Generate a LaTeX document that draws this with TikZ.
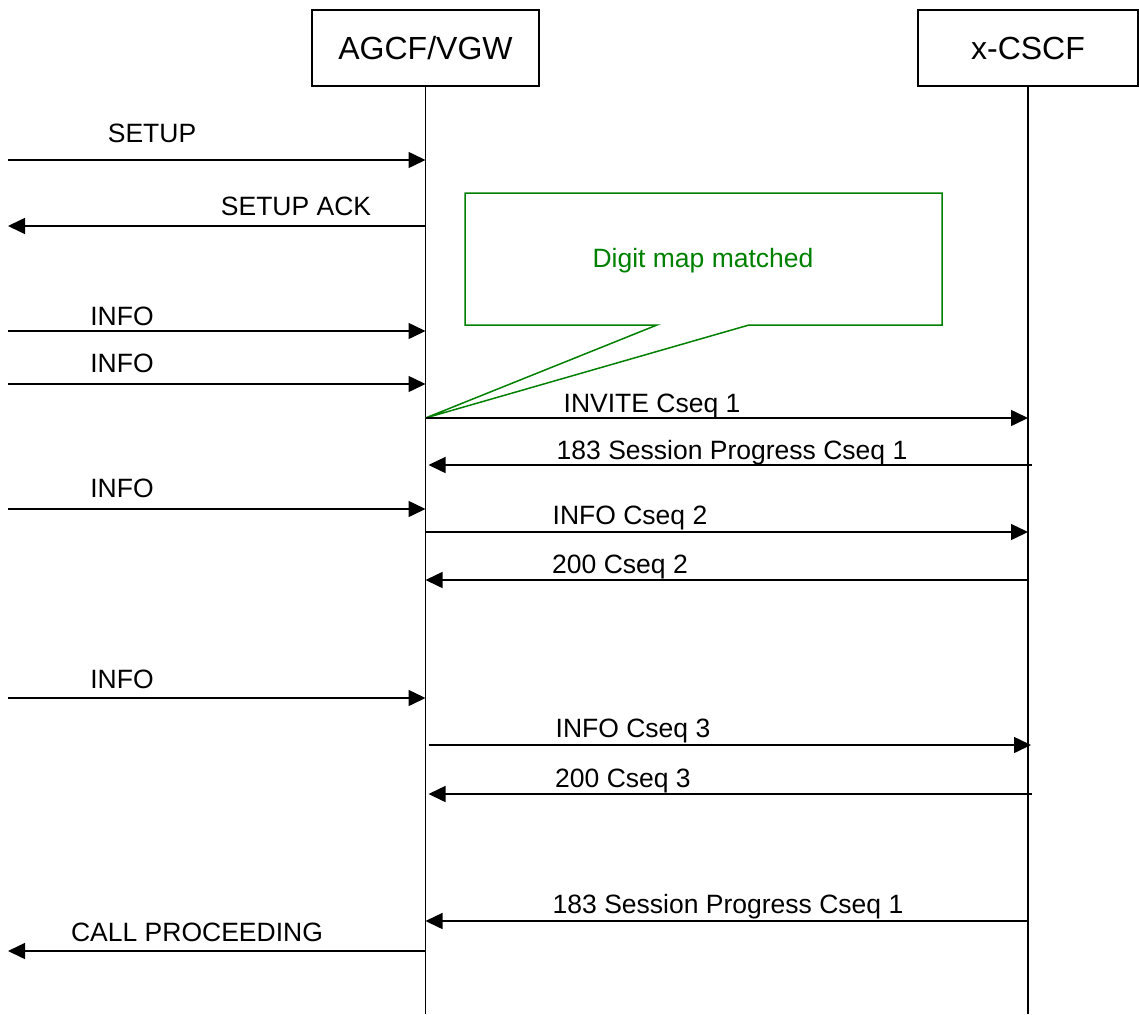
\documentclass[tikz,border=0pt]{standalone}
\usepackage{fontspec}
\setmainfont{Liberation Sans}
\usetikzlibrary{arrows.meta}

\definecolor{notegreen}{RGB}{0,128,0}

\tikzset{
  actor/.style={draw, line width=1.2pt, minimum height=76pt, inner sep=0pt,
    font=\fontsize{32}{36}\selectfont},
  life/.style={line width=1.2pt},
  msg/.style={line width=1.5pt, -{Triangle[length=17pt,width=16pt]}},
  lbl/.style={anchor=base, inner sep=0pt, font=\fontsize{26.5}{30}\selectfont},
  note/.style={draw=notegreen, line width=1.5pt}
}

\begin{document}
\begin{tikzpicture} [x=1pt,y=-1pt]

\useasboundingbox (0,0) rectangle (1139,1014);

% the two entities
\node [actor, minimum width=227pt] (agcf) at (425.5,48) {AGCF/VGW};
\node [actor, minimum width=220pt] (cscf) at (1028,48) {x-CSCF};

% life lines
\draw [life] (agcf.south) -- (agcf.south |- 0,1014);
\draw [life] (cscf.south) -- (cscf.south |- 0,1014);

% the free end on the left
\coordinate (env) at (8,0);

%% the digit map note
\draw [note] (agcf |- 0,418) -- (657,325) -- (465,325) -- (465,193)
  -- (942,193) -- (942,325) -- (749,325) -- cycle;
\node [lbl, text=notegreen] (digit) at (703,267) {Digit map matched};

%% setup phase
\draw [msg] (env |- 0,160) -- (agcf |- 0,160);
\node [lbl] (setup) at (152,142) {SETUP};
\draw [msg] (agcf |- 0,226) -- (env |- 0,226);
\node [lbl] (setupack) at (296,215) {SETUP ACK};

% first digits
\draw [msg] (env |- 0,331) -- (agcf |- 0,331);
\node [lbl] (info1) at (122,325) {INFO};
\draw [msg] (env |- 0,384) -- (agcf |- 0,384);
\node [lbl] (info2) at (122,372) {INFO};

% invite towards the x-CSCF
\draw [msg] (agcf |- 0,418) -- (cscf |- 0,418);
\node [lbl] (invite) at (652,412) {INVITE Cseq 1};
\draw [msg] ([xshift=4pt]cscf |- 0,465) -- ([xshift=3pt]agcf |- 0,465);
\node [lbl] (prog1) at (732,459) {183 Session Progress Cseq 1};

% second digit
\draw [msg] (env |- 0,509) -- (agcf |- 0,509);
\node [lbl] (info3) at (122,497) {INFO};
\draw [msg] (agcf |- 0,532) -- (cscf |- 0,532);
\node [lbl] (infocs2) at (630,524) {INFO Cseq 2};
\draw [msg] (cscf |- 0,580) -- (agcf |- 0,580);
\node [lbl] (ok2) at (620,573) {200 Cseq 2};

% third digit
\draw [msg] (env |- 0,698) -- (agcf |- 0,698);
\node [lbl] (info4) at (122,688) {INFO};
\draw [msg] ([xshift=3pt]agcf |- 0,745) -- ([xshift=3pt]cscf |- 0,745);
\node [lbl] (infocs3) at (633,737) {INFO Cseq 3};
\draw [msg] ([xshift=4pt]cscf |- 0,794) -- ([xshift=3pt]agcf |- 0,794);
\node [lbl] (ok3) at (623,787) {200 Cseq 3};

%% call proceeding
\draw [msg] (cscf |- 0,921) -- (agcf |- 0,921);
\node [lbl] (prog2) at (728,913) {183 Session Progress Cseq 1};
\draw [msg] (agcf |- 0,951) -- (env |- 0,951);
\node [lbl] (callproc) at (197,941) {CALL PROCEEDING};

\end{tikzpicture}
\end{document}
